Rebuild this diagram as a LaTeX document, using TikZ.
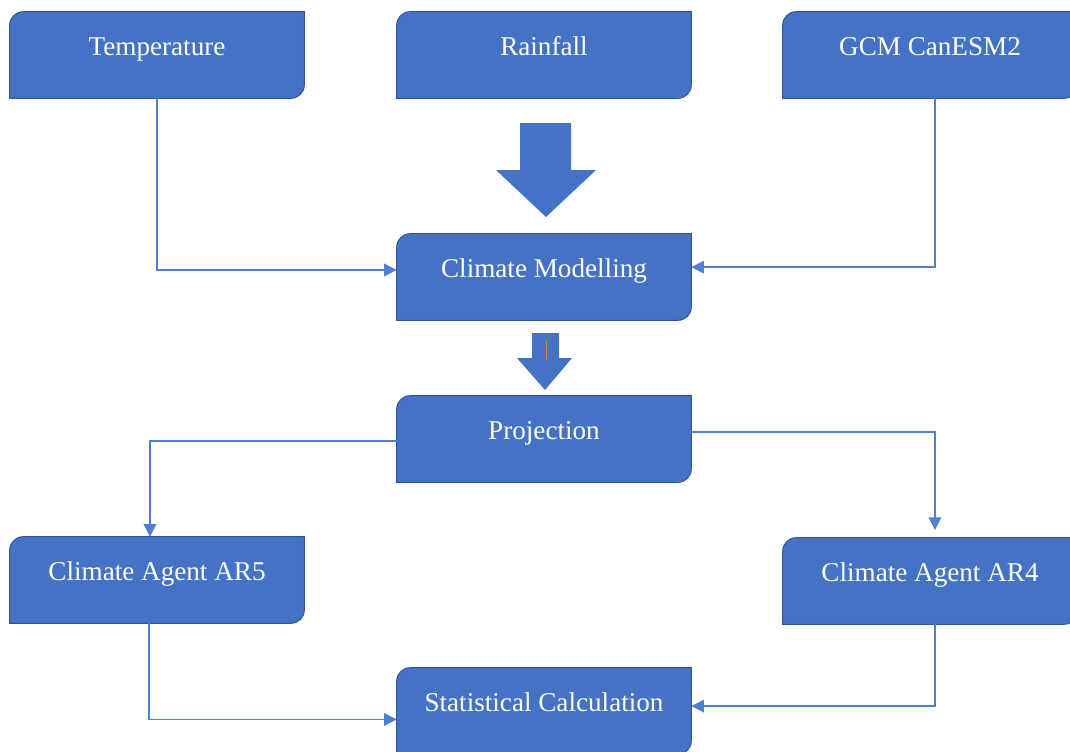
\documentclass[tikz,border=0pt]{standalone}
\usepackage{fontspec}
\setmainfont{Liberation Serif}
\usetikzlibrary{arrows.meta,backgrounds}
\definecolor{boxFill}{HTML}{4472C4}
\definecolor{boxEdge}{HTML}{2F5597}
\definecolor{wire}{HTML}{4F7FD0}
\definecolor{seam}{HTML}{C08A3E}
\tikzset{
  >={Triangle[length=9pt, width=9pt]},
  stage/.style={inner sep=0pt, minimum width=7.35cm, text height=1.075cm, text depth=1.075cm,
    font=\fontsize{19.3}{23}\selectfont, text=white},
  stageShape/.style={fill=boxFill, draw=boxEdge, line width=0.7pt},
  link/.style={->, draw=wire, line width=1.1pt},
  push/.style={fill=boxFill},
}

\begin{document}
\begin{tikzpicture}[x=0.025cm, y=-0.025cm]
  \useasboundingbox (0, 0) rectangle (1070, 751);

  % ---------------------------------------------------------------- inputs
  \node[stage] (temperature) at (157, 55) {Temperature};
  \node[stage] (rainfall) at (544, 55) {Rainfall};
  \node[stage] (gcm) at (930, 55) {GCM CanESM2};

  % ---------------------------------------------------------------- middle column
  \node[stage] (modelling) at (544, 277) {Climate Modelling};
  \node[stage] (projection) at (544, 439) {Projection};

  % ---------------------------------------------------------------- agents
  \node[stage] (agentfive) at (157, 580) {Climate Agent AR5};
  \node[stage] (agentfour) at (930, 581) {Climate Agent AR4};
  \node[stage] (statistics) at (544, 711) {Statistical Calculation};

  \begin{scope}[on background layer]
    \foreach \n in {temperature, rainfall, gcm, modelling, projection, agentfive, agentfour, statistics} {
      \draw[stageShape] (\n.south west) -- ([yshift=-9.5pt]\n.north west)
        arc[start angle=180, end angle=90, radius=9.5pt] -- (\n.north east)
        -- ([yshift=9.5pt]\n.south east) arc[start angle=0, end angle=-90, radius=9.5pt] -- cycle;
    }
  \end{scope}

  % ---------------------------------------------------------------- block arrows
  \fill[push] (520, 123) -- (571, 123) -- (571, 170) -- (596, 170) -- (546, 217)
    -- (496, 170) -- (520, 170) -- cycle;
  \fill[push] (532, 333) -- (559, 333) -- (559, 358) -- (572, 358) -- (545, 390)
    -- (517, 358) -- (532, 358) -- cycle;
  \draw[seam, line width=0.6pt] (546, 340) -- (546, 361);

  % ---------------------------------------------------------------- connectors
  \draw[link] (temperature.south) |- ([yshift=5pt]modelling.west);
  \draw[link] ([xshift=3.5pt]gcm.south) |- ([yshift=7pt]modelling.east);
  \draw[link] ([yshift=-1.5pt]projection.west) -| ([xshift=-5pt]agentfive.north);
  \draw[link] ([yshift=5pt]projection.east) -| ([xshift=3.5pt, yshift=5.5pt]agentfour.north);
  \draw[link] ([xshift=-5.5pt]agentfive.south) |- ([yshift=-6pt]statistics.west);
  \draw[link] ([xshift=3.5pt]agentfour.south) |- ([yshift=3.5pt]statistics.east);

\end{tikzpicture}
\end{document}
